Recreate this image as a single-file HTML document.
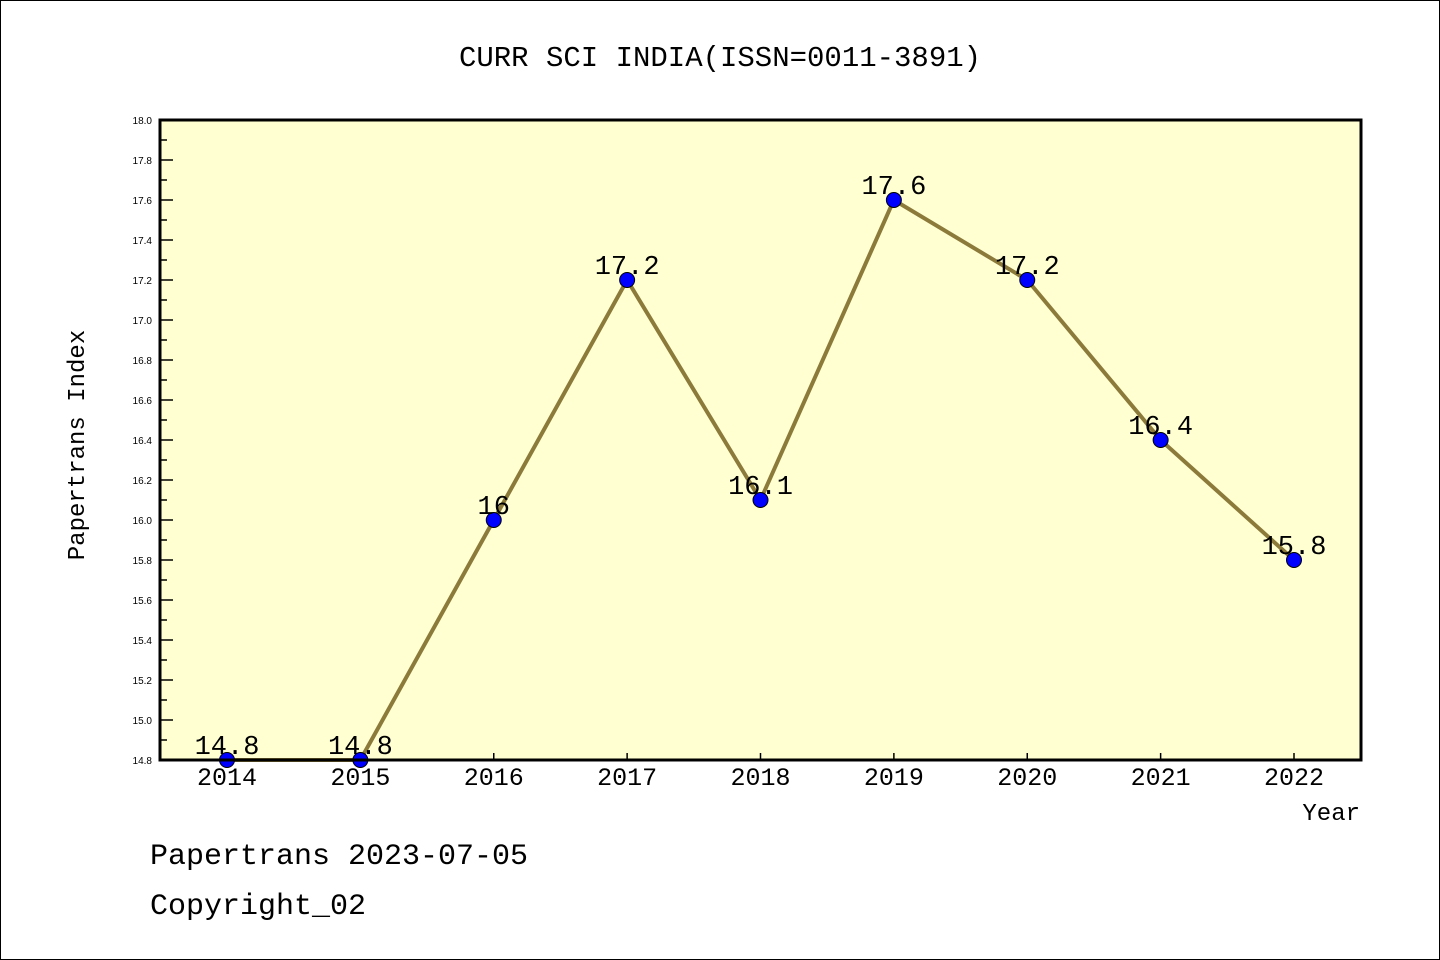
<!DOCTYPE html>
<html><head><meta charset="utf-8"><style>
body{margin:0;background:#fff}
svg{display:block}
text{font-family:"Liberation Mono","WenQuanYi Zen Hei",monospace;fill:#000}
</style></head><body>
<svg id="chart" width="1440" height="960">
<rect x="0.5" y="0.5" width="1439" height="959" fill="#fff" stroke="#000"/>
<text x="720" y="66" text-anchor="middle" font-size="29">CURR SCI INDIA(ISSN=0011-3891)</text>
<rect x="160" y="120" width="1201" height="640" fill="#ffffd2"/>
<g id="yaxis"></g><g id="xaxis"></g><g id="series"></g>
<rect x="160" y="120" width="1201" height="640" fill="none" stroke="#000" stroke-width="3"/>
<text transform="translate(84,445) rotate(-90)" text-anchor="middle" font-size="24">Papertrans Index</text>
<text x="1360" y="820" text-anchor="end" font-size="24">Year</text>
<text x="150" y="864" font-size="30">Papertrans 2023-07-05</text>
<text x="150" y="914" font-size="30">Copyright_02</text>
</svg>
<script>
const years=["2014","2015","2016","2017","2018","2019","2020","2021","2022"];
const values=[14.8,14.8,16,17.2,16.1,17.6,17.2,16.4,15.8];
const valueLabels=["14.8","14.8","16","17.2","16.1","17.6","17.2","16.4","15.8"];
const yTicks=["14.8","15.0","15.2","15.4","15.6","15.8","16.0","16.2","16.4","16.6","16.8","17.0","17.2","17.4","17.6","17.8","18.0"];
const yMin=14.8,yMax=18.0;
const NS="http://www.w3.org/2000/svg";
function X(i){return 227+i*(1294-227)/(years.length-1);}
function Y(v){return 760-(v-yMin)/(yMax-yMin)*640;}
function mk(t,a,p){const e=document.createElementNS(NS,t);for(const k in a)e.setAttribute(k,a[k]);p.appendChild(e);return e;}
const ya=document.getElementById('yaxis'),xa=document.getElementById('xaxis'),se=document.getElementById('series');
for(let v=yMin*10;v<=yMax*10+0.01;v++){
  const val=v/10,y=Y(val),major=Math.round(v)%2===0;
  const t=mk('line',{x1:160,x2:major?173:167,y1:y,y2:y,stroke:'#000','stroke-width':1.5},ya);
  
  
}
yTicks.forEach(s=>{
  const l=mk('text',{x:152,y:Y(parseFloat(s))+4,'text-anchor':'end','font-size':10,style:'font-family:"Liberation Sans",sans-serif'},ya);
  l.textContent=s;
  
  
});
years.forEach((yr,i)=>{
  const t=mk('line',{x1:X(i),x2:X(i),y1:760,y2:753,stroke:'#000','stroke-width':1.5},xa);
  
  
  const l=mk('text',{x:X(i),y:785,'text-anchor':'middle','font-size':25},xa);
  l.textContent=yr;
  
  
});
const line=mk('polyline',{points:values.map((v,i)=>X(i)+','+Y(v)).join(' '),fill:'none',stroke:'#8b7a3a','stroke-width':4},se);


values.forEach((v,i)=>{
  const c=mk('circle',{cx:X(i),cy:Y(v),r:7.5,fill:'#0000ff',stroke:'#000','stroke-width':1},se);
  
  
  const l=mk('text',{x:X(i),y:Y(v)-6,'text-anchor':'middle','font-size':27},se);
  l.textContent=valueLabels[i];
  
  
});
</script>
</body></html>
